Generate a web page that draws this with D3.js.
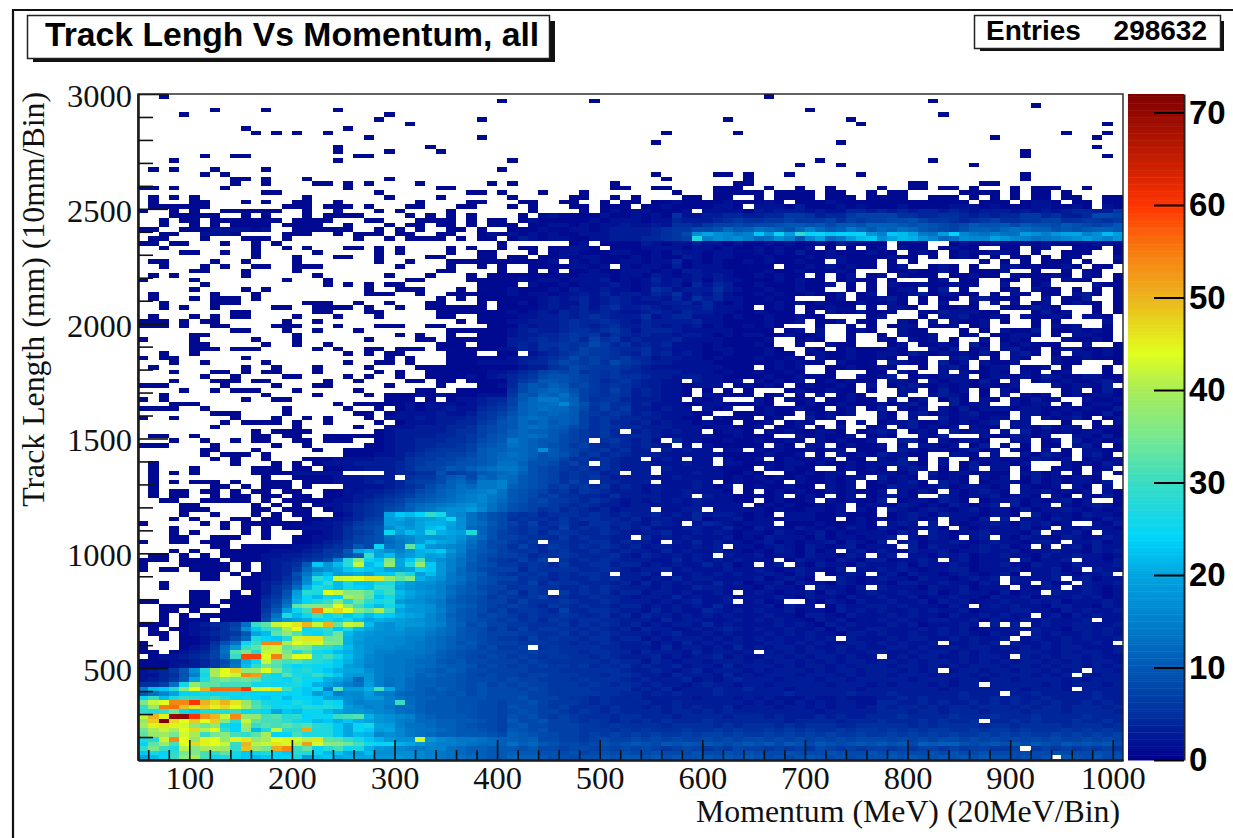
<!DOCTYPE html>
<html>
<head>
<meta charset="UTF-8">
<title>Track Lengh Vs Momentum, all</title>
<script src="https://d3js.org/d3.v7.min.js"></script>
<style>
    html, body { margin: 0; padding: 0; background: #fff; overflow: hidden; }
    svg { display: block; }
    .serif text, text.serif { font-family: "Liberation Serif", serif; font-size: 32.5px; fill: #111; }
    .bold text, text.bold { font-family: "Liberation Sans", sans-serif; font-weight: bold; fill: #000; }
</style>
</head>
<body>
<svg id="chart" width="1233" height="838"></svg>
<script>
const titleText = "Track Lengh Vs Momentum, all"
const statsLabel = "Entries"
const statsValue = "298632"
const xTitle = "Momentum (MeV) (20MeV/Bin)"
const yTitle = "Track Length (mm) (10mm/Bin)"

const xDomain = [50, 1010]
const yDomain = [100, 3000]
const zMax = 72
const xBinWidth = 10
const yBinHeight = 20
const xMajor = [100, 200, 300, 400, 500, 600, 700, 800, 900, 1000]
const yMajor = [500, 1000, 1500, 2000, 2500, 3000]
const zTicks = [0, 10, 20, 30, 40, 50, 60, 70]

// palette stops
const paletteValues = [0, 5, 10, 15, 20, 24, 30, 35, 40, 44, 50, 55, 60, 65, 72]
const paletteColors = ["#00008c", "#00309f", "#0058b4", "#0080cc", "#00a4e0", "#00d4fa", "#38dcc4", "#78e890",
    "#a8ec58", "#e0ff1c", "#ecb41c", "#f87c10", "#ff3400", "#c41c00", "#800000"]

// one char per bin, '.' = empty, 1-9 a-z A-Z then symbols up to 72. Top row (3000) first.
const codes = ".123456789abcdefghijklmnopqrstuvwxyzABCDEFGHIJKLMNOPQRSTUVWXYZ!#$%&*+=?@^"
const countRows = [
"..1......... ............ ............ ............ ............ .1.......... ............ ............",
"............ ............ ...........1 ........1... ............ ............ .....1...... ............",
"............ ............ ............ ............ ............ ............ ............ ...1........",
".......1.... 1......1.... ............ ............ ............ .....1...... ............ ............",
"....1....... ............ 1........... ............ ............ ............ ......1..... ............",
"............ ...........1 .........1.. ............ .........1.. .........1.. ............ ............",
"............ ............ ..1......... ............ ............ ..........1. ............ ..........1.",
"..........1. ........1... ............ ............ ............ ............ ............ ............",
"...........1 .1.1..1..... ............ ............ ...1......1. ............ ............ ......1...1.",
"............ ..........1. .........1.. ............ ............ ............ ...........1 .........1..",
"............ ............ ............ ............ ..1......... ........1... ............ ............",
"............ .......1.... ....1....... ............ ............ ............ ............ .........1..",
"............ .......1.... 1....1...... ............ ............ ............ ............ ..1.........",
"......1..11. .........11. ............ ............ ............ ............ ............ ..1.......1.",
"...1........ .......1.... ............ 1........... ............ ......1..... .....1...... ............",
"............ ............ ............ ............ ............ ....1...1... .........1.. ............",
".1.1...1.... 1........... ...........1 ............ ............ ............ ............ ............",
"......1.1... ............ ............ ............ ..1.....11.1 ...1......1. ............ ..1.........",
".........11. 1...1....... 1........... ............ ...1.......1 ............ ............ ..1.........",
".........1.. 1....11.1.1. ...1......1. 1.........1. ..........11 ............ ...11.....11 ............",
"11.1....1... ........1... .....11..... ..........11 ..11....111. .1..1..1.... 1..11.11.1.. .1.111..1...",
"............ 11.........1 ........11.1 ...1...1.... ....1...1111 1.1111.11..1 .11.....1111 .1.11.1.....",
".1.1.1...... ....1....... 1....1...... 1.....11..1. 1....11.11.. 1.1111.111.1 111..111.1.1 .1.11.11..11",
".1...11...1. 1..11..1.... ...1....11.. .11..11..1.1 1.1121111211 121.11121111 111111111.11 1.1221.11.11",
".111111..... ..111.111.1. ..11...11... 1.1...11.111 .1121111221. 222131112121 112111122212 111221121.21",
"1..1.1..1111 11..1..2...1 .1....1..... ..1....1.121 221112.22221 323332322443 434344343233 323232344336",
"...11111..1. 1...1.1111.. ..1.1.1.1... .1.121111211 212152233443 344665344677 775544554343 446645334887",
"..1.11.11111 11.1111...11 ...1111.1.11 .12111112122 212243334565 566766675767 788976654567 556677556656",
"..1..1.1.111 1.1111..1... 1.11.11.1.11 1.1122121223 223255467787 889aa9a8aa9b bba9a9878a99 a8a998a9878a",
"11..11122221 2..111111..1 .1.1..11.1.. 111211221233 334566889cab dcb9cfcabeca cbdca9879bba cdcbb9a9abba",
"..11..2221.. ..111..1.111 .11..11..121 212121122233 334568hkhgef nipjtopnoopi fnmkedjogedf ddjhfikkfhmj",
".11...1...11 1.1......1.. 1.1111.1.11. 132122112233 344567rfhghf cdhfagkcejmn hkmligcdhggk igfdefghjhfi",
"11.11...1..1 .1.......... ...........1 ......12.111 132122322121 121211213211 1.111..12112 112121111221",
"..1........1 ..1.1...11.1 .1....1.1..1 .11.11221.11 122221221211 212112.1.1.1 2.211.1211.. 11.12..111.1",
"....11..1..1 .....1.....1 .1....1..11. ..1.12211122 112132212211 212131121112 11.121.12112 21.1..111..1",
"...........1 ...1...11..1 ....11...11. 11.112122111 212113212211 121112122111 1211.1.121.1 .11.1.11...2",
".11....1..1. ...1.......1 ..1...111111 11112.212112 212241212112 1211211.2111 .1.1......1. 1.1.111.1..1",
"..1...1.1..1 1..111...... .1....1..1.1 ..11112212.2 122131222111 11.112121211 .12..121.1.. 22111121.11.",
".....11...1. ...1........ .....11....1 ..1.1.112112 221213322211 1211211121.. .1121121.111 2..1..1.21..",
".1.1......1. .....1...... 1...1...1.11 111112122212 213212323211 21211.1.12.1 2.2111.11211 .211121.21.1",
"1....1...... ..1...1..... ..11....1111 121221222312 124232313221 1121211.1211 .1...12.11.. 11.11.211..1",
"......1..... ......1.1.1. 11.......111 1.2112122232 123231424311 21112112.1.1 .211211211.. 2..12....211",
".....1....1. 1.........1. .111...1.111 211121322322 125423335321 1211211..1.1 .122.13.1... 12.211.1.1.1",
".1.....1...1 ..........11 1..1..111111 212212232423 324352324211 212112112.12 .112312211.1 .21.11.231.1",
".1...1.111.1 ............ .....1.1.111 111232342343 233242534221 1211...12.11 231.1.11.231 11..2.113..1",
"..1....111.. ....111..1.. 1...11...1.1 121232242343 222334242121 112121211121 121.1.2..1.2 .2.12.1211.1",
"..1.1..1.... .11..1111.1. .1..111111.1 111232342453 343233342221 .121.11211.1 .221..1121.. 211321...1.1",
".........11. .....11...11 .....1111111 212324343432 234324332211 2111.1.21121 11..21322211 ...1312..1.1",
".1...1.1.11. ...1...1...1 .....11..111 122334345433 352344222121 1211211....1 2...1.223112 1.21121.221.",
"111.1.11.... ..1..1...... .......1.111 223334544543 243333422111 12112.112.11 ..21.2.2112. 1..1.1....2.",
"111.1..11... .111...1...1 11..11....11 132334543453 343232312112 121...1..1.1 .122.112.12. ...1.212..1.",
".........11. ..1..1...1.. ......111111 234334554564 244432222211 11.12.2..121 ..211...1.1. 2113.112121.",
".....11..... ...1........ .1.1..1..111 233445656354 343323321212 2112112..1.. 1.2112..12.1 1221.1.2211.",
"1....1.....1 ...1......1. ...11.111111 334545647563 433342222111 12..121..1.. 21.212.1..2. 121...21121.",
".....11..... 1..1..1..... .....111.111 343556568645 343422212111 21..1..211.. .12.1121.31. 212111..2..1",
".....111.111 .....1.1..11 .111.1111112 243546576654 453322212211 121..21.1211 121..213.12. 2311.1221121",
"..1..1...... ........1.1. 11....111..1 1.2345676654 353423211211 1211.1211211 221321212131 .231.1.22121",
"1.11......1. ............ 1.1...111111 233456867656 442332212111 21121.211211 21.11..231.1 .21..2112111",
"...1..1..... 1.......1..1 1.1...111222 234468767586 543322221111 1121211.2111 .3211.312.21 12...211...1",
".1........1. .1...1....1. ...111111111 123356876665 432222222111 .1212..11211 21..1.231.12 2.112.1...1.",
"...1...11.1. 11...1.....1 .1..11111122 345787856564 433332221211 21121..1...1 1.21..2.2112 1.21.12...1.",
"......1..1.. ..11....1.1. .1..11112123 456899876565 543323322111 12112111..21 23.121222.12 212132112211",
"...1...111.1 1.....1..1.. ..11.11.1111 467aa9876456 43322.32212. 21212.121211 .221.2122131 .2.121211231",
"111.....1... .1...11..... 1....1...112 48a9ba786565 433221222.12 121.121121.2 .12321212121 12...212213.",
"....1..1.111 ...1.....1.. ...11..11111 58abcb976575 343221.1.1.1 ...1211211.1 ..22.1312.1. 21....12.131",
"..1......... 1....1....1. 111212111222 6a9cbda76565 343221.22111 .12.1.2.121. ..2..2321.1. 2.212.121221",
"1.1.......1. .11......... 111.1.122344 7aceecb75664 33322.212... 21.212.11211 .2.12.131.21 .21312..2112",
"...111...... .......1.111 112122212345 7bccdgb96755 342221122111 21..12112111 21231..3122. .2122.1.1221",
"1111..1..... ..1.....1..1 .12122322456 8bcdcca85756 332322.212.. 1211211.12.1 3.212.213122 212211212113",
".......111.. ..1......11. 122223223567 9bcbcba76565 34322211..11 1211.21212.. 21.231212311 1.2212121131",
"1..1.....1.. .1..1.1...1. 222323334568 acdcbba75654 4332211.2111 .12..312.... 21.2..312212 2.2.21231.12",
"........1.11 11.1..1....1 .12223344679 acbcaba75644 3423221211.1 12.121..1.2. 122311212123 .22...1..1.2",
".......1.... ...1.....1.. 222333445789 acdcba875654 433322212211 2.112.1.2..1 2.231212.211 .2213122.121",
"...........1 .1111......1 233333455789 bcbba976564. 3432322.1221 .21211221.12 32.121.3122. 2.3121212211",
".11..1.....1 1.11..111111 23333445679a bcdca8765644 443222221121 11..212112.1 21..213...21 13212..22131",
"...1..1..1.1 1..11.111..1 23344455689a ecbaa876.564 342.42211211 21121.212112 ..331.21221. .22.12.31212",
"111....1.... .1..1.....11 2334455679ab dcba98675454 3432.2.21111 1.21.22.1211 2.2.2212.13. 2.1.11.231.1",
"......11...1 .....1..1111 233456667abb ccbha8765645 33.32322.22. 212112122.11 1.3212212312 .21.2.1.2211",
"......1.111. 1.......1112 234566778abc dcb9a9756454 333222222111 12112.1.2121 32211..221.2 ..21321.231.",
".......1.1.. 1...11122223 335667789abc cca997564543 3.232.22.211 2.121212.11. 213.1.2..122 1213212.1212",
".1.......1.. .1.1.1222333 345677899abd db998675.543 33222322.221 121221211212 22321.2.1312 212...212132",
".1...1.....1 11.11.112233 345778a9bcde ec9876564543 33.322222111 .21211..1212 1.232.1.13.2 2.1..121.12.",
".1.1.1.....1 11122222.... 344559678abc db987565534. 33.222322112 1..112122.11 2212.3122121 1.2312.1.2.1",
".1.......... 1..111122233 3.5668ab8cbd ca9875656433 332232222121 21212112122. 3121.2121.21 2.13121221..",
".1.1.111.1.. 111.11122234 346778bcaeef ca987575.443 33.22232.121 121.211212.1 21231.321.12 22131212213.",
".1.....11.1. 111.1...2222 34568abdceef ba9867564534 3232223212.1 211211.212.1 132212312221 2.2112.21.2.",
".1.11.11.1.1 1.11..112233 45689bcdefgd a98756465433 3232232221.1 .12121121211 2.2131.21232 1.2231212.21",
".1.11..1.11. 11.11.112334 5679abcefged a98675544353 333223.32211 212.121.12.1 2321..321223 1221.21.2131",
"..11..11111. 1.1111122345 679abcdefgec a97866545432 323232322211 .12112.21211 3.1221321.12 231212312..1",
"....11.....1 .1.1.1223456 78bcdefghfdb 987765454332 33222232222. 121211212.12 213212132123 .3122.212321",
"....111....1 1.111.123456 89bdeghhjgdb 987564543423 33.2233.2222 212112212.21 .32123212312 213122321212",
"....1..1...1 .1.11..12456 knmotqhgdb98 656455545434 334232423321 21.222112111 .12321322212 21.312213221",
"...1.1...11. 11..11223467 jkhjklphdb98 565546455443 423322412231 22122211.121 212312.2213. 3.2213212132",
"1.....1.1.11 111112234678 jihkllkhdca8 757456435544 32432.243212 22.111211121 .232.3.21223 2132312..213",
"...1....1.1. 1.1122235789 hkikmnjhcb98 656547454534 342223322421 322132121321 3212231.2122 22312.213221",
"...1.1....1. 1...11235679 pjmkrlkjrb97 656465544543 233422323212 213212312122 2132.3212231 2213.2231.22",
"...11..111.. 1..112235789 dfgjiijhec97 765546454433 .42323222312 132221312212 23.21321.23. 213221321232",
"1..11.111... ...112346789 cegjmkjgda88 656.55445534 332.32423221 231212231321 3.2312232123 221332.22312",
".......11.11 111223456a8p dexnihgfca87 575465454543 423322323.22 123213212312 22.313221232 312.2.231322",
"...1.1..1111 12223466akmj hfilmnifba97 656456445434 332423223221 21321312.231 321322312232 231223221323",
".11.1.1.1111 223345679buk mhjljkgeb987 764556544453 24323232.322 31221322132. 23.221323122 322132232212",
"111.1111.111 233456 8fsBpn zknvjhfdb976 5757.5454543 332242323232 22.132213213 312232.23122 2.31223.2213",
"1...11111.1. 2345animsGmp CkrCnifda986 656546445534 423232242312 .23.21322132 223132232122 321322132223",
"1.11.1111.1. 2346cgiknpnm kjkpnifca877 746555544543 233423222322 321232213.22 323212233122 23122312.322",
"......11.1.1 2349ekmjklkn nuqjmiecba76 5656454554.3 342.22323232 232132.1232. 231322123212 31.22321223.",
"......11..11 2358gsoGHIKK CxAljhedb987 756545445453 323242332222 312321..3212 322132212323 .32223.23122",
"..1.......11 346ahntmrnnq rljhhfeca986 657465544434 242323224231 223132213212 213322322132 .22.312.3223",
"..1.......11 357clrpmqonu tkihgfcba877 566554454543 332322433222 13221.32213. 322213223122 2.2132.23212",
".....11..1.1 359jsrIGAAxq umkihfdba976 7465.6454534 4233232232.2 321223132123 223223123221 3122.3223212",
".....11..111 46akpmqoECwn qljhgfca9867 656745445443 233242322322 223213221322 322312232213 223132232312",
"11...11.1111 57cloruAsytq sjhhfeba9877 575556544543 3323234223.2 312..2132132 232231323122 322323122232",
"..111111.111 58exAAzIAvpm qmjihecba876 765465454434 423232324222 231322.13223 323222132.23 232213322132",
"..11.1..1111 6ajpuTHLIAxE ukiihfca9867 566547445543 324232243232 322312213232 322323223122 233221323223",
"..1.1.111111 7drmqvpsnqmo nlkjgeba9787 656556544534 243323232322 232213321322 232322132232 322.23132322",
"..1.111.1111 8fikloqnqmkl kjihgeca9876 756465455443 332423322232 323221323122 323223322313 223232223.22",
"111.123457du xGIKOGOxGFmi hjiigfcb8977 665556454543 423233242322 223232132322 2323122232.3 .3.232233223",
".1.1122358hn tvEIprtnrmki higgfdca9867 575665545434 243322323432 322322313223 322232323122 232322133232",
".11.123456ak mxBwqosymjih hhggedca9877 766556454543 332342232322 232323221332 322322323213 22.323223232",
"..1.112358cr onsGKKyzljhh ggffdcba9876 657565545534 423233323232 32322323.322 232332232322 3.2322323223",
"1...11259dpu SSEIGHAzlihh ggfedcb9a877 766655454543 342324232332 233232322332 323223.22323 .3223232232.",
"1...1236ciux FGxAzutqmjhg gffedcba9786 67.565555443 332423323242 323323223232 233232232332 323232332223",
"11.12347dwzs GGzrwqomljhf feeedba98877 767665545544 243332423323 .32323323223 322323323232 233322323323",
".1223457cuXX ITCIIsvqmjgf eeedcba98787 676566554543 334232334232 233232332322 .23233223233 2.3232332322",
"111223468dlp Gxvwtsqnligf eedcca9a8877 767655555454 424323323332 323323232332 332323323232 323323232332",
"111233469emt ywroqppnjiff eeddcbaa9787 676766564545 343342332423 332323323233 323323232333 233232332323",
"2346ahsEIMBC IAtqspnlkkhf eedcbaba8877 776665555554 334323423332 323332323323 332323.23323 32332323.332",
"22459fqEIGSQ spwrquqnjiif eedbcba98787 767766655455 433243332423 233323332323 323332333232 3332323.3233",
"2346aksxzxyw rqospolkhcif decbbaa98887 877666565554 343334232343 332333233233 333233323323 323333232333",
"557dqCxxvvvq qpqrolkhfdjf decbbaa98978 787766656545 434332343323 323333323332 3233323233.3 333323233323",
"fmnsBIOUUUYG JKvpnpfwjjlv kecbaba98988 878766665555 343423334334 333233333323 333333233333 3323332.3333",
"adgkopqppqpo ooopnjlfggjf ecbbaa9a8988 887766666554 434343334333 333433333433 343333334333 .33433333433",
"pumrutsvspqo npmoonkjhgii fdcbbaa99988 897776554544 433333233323 232223223222 334343334334 343343333433",
"zGISSYOLOKCv qporpnqohfgg fucbaaa99887 889766654544 443343333332 323232323322 443343433434 343434334343",
"uCTUNKMJLIEw tpqpsrsqjhfg ecdbaaa99887 988767555454 434343433423 332332323323 434434344344 434344344434",
"tsuyqnsssupq oknmppmkiihg fdcbaaa99887 898776565454 444344343433 333333233333 444344344434 443444344443",
"GOJ??YROGSCC vwstoppuvwli hgfcbaaa9887 989767655545 544434444344 434333434334 445444454445 444544445444",
"CM^LIMIMAsGx vvtqpmnlnlki hfeccbbaa987 a88977656545 454544454444 444344443444 5444545445.4 454544454454",
"EJKJHByCqoDu wvxvwsrnkoqk jfddcbba9887 9a8877766565 555455554545 554545554455 555454555545 545555455545",
"yEGEILFItoBm rGttPrrnkpnj kgeddcbaa987 a98977766656 565556556565 565656556566 565656655656 656555656565",
"xCDzHEuzBvtx Eoovrrrnkmlg hgedcbbaaa98 ba9887767676 767667677676 676767676676 676767676676 767667676767",
"rsGSICJICJKC EIJHFKxwtqnl jhhHigfeedcb bab887767877 878787787878 878787878788 878787887878 787878778787",
"oxDvILJIGuOF GKHFQHBAyvqo plkigffedccb dbca98878989 a98a9a9a989a 9a8a98a989a9 a9a8babb989a 9a8a98a9a9a8",
"tzurFAEEDtNC zPSuxpsvpqli hgfeffdcbbaa a9a887887878 787678767687 767676876767 767677676776 67.676767676",
"nqotzAvtxqnp ronsrpmnkjmh hhhgfedcbbaa baa998978989 889888988989 888988898889 898889898898 888889888988",
"kmpuBEvprpnm nopqjmnklkki iihgfeddcbaa cbba99899a9a a9a9a99a9a9a 98989a989899 9a9a99a9a9a9 98989.a98a89"
]

// parse the strings into a list of filled bins
const numBinsX = (xDomain[1] - xDomain[0]) / xBinWidth
const cells = []
countRows.forEach(function(row, r) {
    const chars = row.replace(/ /g, "")
    for (let c = 0; c < numBinsX && c < chars.length; c++) {
        const value = codes.indexOf(chars[c])
        if (value > 0) {
            cells.push({
                x0: xDomain[0] + c * xBinWidth,
                y1: yDomain[1] - r * yBinHeight,
                value: value
            })
        }
    }
})

const svg = d3.select("#chart")

const x = d3.scaleLinear().domain(xDomain).range([138, 1123])
const y = d3.scaleLinear().domain(yDomain).range([760, 94])
const zPos = d3.scaleLinear().domain([0, zMax]).range([760, 94])
const color = d3.scaleLinear().domain(paletteValues).range(paletteColors).clamp(true)

// pad frame, top and left edges only
svg.append("rect").attr("x", 0).attr("y", 0).attr("width", 1233).attr("height", 838).attr("fill", "#fff")
svg.append("path").attr("d", "M13,838V10H1233").attr("fill", "none").attr("stroke", "#111").attr("stroke-width", 2.2)

// heat map bins
svg.append("g").selectAll("rect").data(cells).enter().append("rect")
    .attr("x", d => x(d.x0))
    .attr("y", d => y(d.y1))
    .attr("width", x(xBinWidth) - x(0))
    .attr("height", y(0) - y(yBinHeight))
    .attr("fill", d => color(d.value))
    .attr("shape-rendering", "crispEdges")

// minor ticks every 20 MeV and 100 mm
const xMinor = d3.range(60, 1010, 20).filter(v => !xMajor.includes(v))
const yMinor = d3.range(200, 3000, 100).filter(v => !yMajor.includes(v))

const xAxisG = svg.append("g").attr("class", "serif").attr("transform", "translate(0,760)")
xAxisG.call(d3.axisBottom(x).tickValues(xMajor).tickSize(-20).tickPadding(6).tickSizeOuter(0).tickFormat(d3.format("d")))
const xMinorG = svg.append("g").attr("transform", "translate(0,760)")
xMinorG.call(d3.axisBottom(x).tickValues(xMinor).tickSize(-10).tickFormat("").tickSizeOuter(0))
xMinorG.selectAll("text").remove()

const yAxisG = svg.append("g").attr("class", "serif").attr("transform", "translate(138,0)")
yAxisG.call(d3.axisLeft(y).tickValues(yMajor).tickSize(-30).tickPadding(6).tickSizeOuter(0).tickFormat(d3.format("d")))
yAxisG.selectAll(".tick text").attr("dy", "0.38em")
const yMinorG = svg.append("g").attr("transform", "translate(138,0)")
yMinorG.call(d3.axisLeft(y).tickValues(yMinor).tickSize(-15).tickFormat("").tickSizeOuter(0))
yMinorG.selectAll("text").remove()

svg.selectAll(".domain").attr("stroke", "#111").attr("stroke-width", 2)
svg.selectAll(".tick line").attr("stroke", "#111").attr("stroke-width", 1.6)
svg.selectAll(".serif .tick text").attr("fill", "#111").style("font-size", "32.5px").style("font-family", "Liberation Serif")

// plot box
svg.append("rect").attr("x", 138).attr("y", 94).attr("width", 985).attr("height", 666)
    .attr("fill", "none").attr("stroke", "#222").attr("stroke-width", 1.4)

// colour bar
const barSteps = d3.range(0, zMax, 0.25)
svg.append("g").selectAll("rect").data(barSteps).enter().append("rect")
    .attr("x", 1128).attr("width", 56)
    .attr("y", d => zPos(d + 0.25))
    .attr("height", zPos(0) - zPos(0.25) + 0.5)
    .attr("fill", d => color(d + 0.125))

const zAxisG = svg.append("g").attr("class", "bold").attr("transform", "translate(1184,0)")
zAxisG.call(d3.axisRight(zPos).tickValues(zTicks).tickSize(-30).tickPadding(5).tickSizeOuter(0))
zAxisG.selectAll(".tick line").attr("stroke", "#000").attr("stroke-width", 2)
zAxisG.selectAll(".tick text").attr("fill", "#000")
    .style("font-family", "Liberation Sans").style("font-size", "33px").style("font-weight", "bold")
zAxisG.select(".domain").attr("stroke", "#222").attr("stroke-width", 2)

// axis titles
svg.append("text").attr("class", "serif").attr("x", 1120).attr("y", 822).attr("text-anchor", "end")
    .style("font-size", "31.8px").text(xTitle)
svg.append("text").attr("class", "serif")
    .attr("transform", "translate(44,92) rotate(-90)").attr("text-anchor", "end")
    .style("font-size", "31.8px").text(yTitle)

// title box with shadow
svg.append("rect").attr("x", 33).attr("y", 21).attr("width", 522).attr("height", 41).attr("fill", "#111")
svg.append("rect").attr("x", 27.5).attr("y", 15.5).attr("width", 522).attr("height", 43)
    .attr("fill", "#fff").attr("stroke", "#222").attr("stroke-width", 1.5)
svg.append("text").attr("class", "bold").attr("x", 45).attr("y", 46).style("font-size", "33.7px").text(titleText)

// stats box with shadow
svg.append("rect").attr("x", 980).attr("y", 21).attr("width", 244).attr("height", 30).attr("fill", "#111")
svg.append("rect").attr("x", 974.5).attr("y", 15.5).attr("width", 246).attr("height", 33)
    .attr("fill", "#fff").attr("stroke", "#222").attr("stroke-width", 1.5)
svg.append("text").attr("class", "bold").attr("x", 986).attr("y", 40).style("font-size", "28px").text(statsLabel)
svg.append("text").attr("class", "bold").attr("x", 1207).attr("y", 40).attr("text-anchor", "end")
    .style("font-size", "28px").text(statsValue)
</script>
</body>
</html>
